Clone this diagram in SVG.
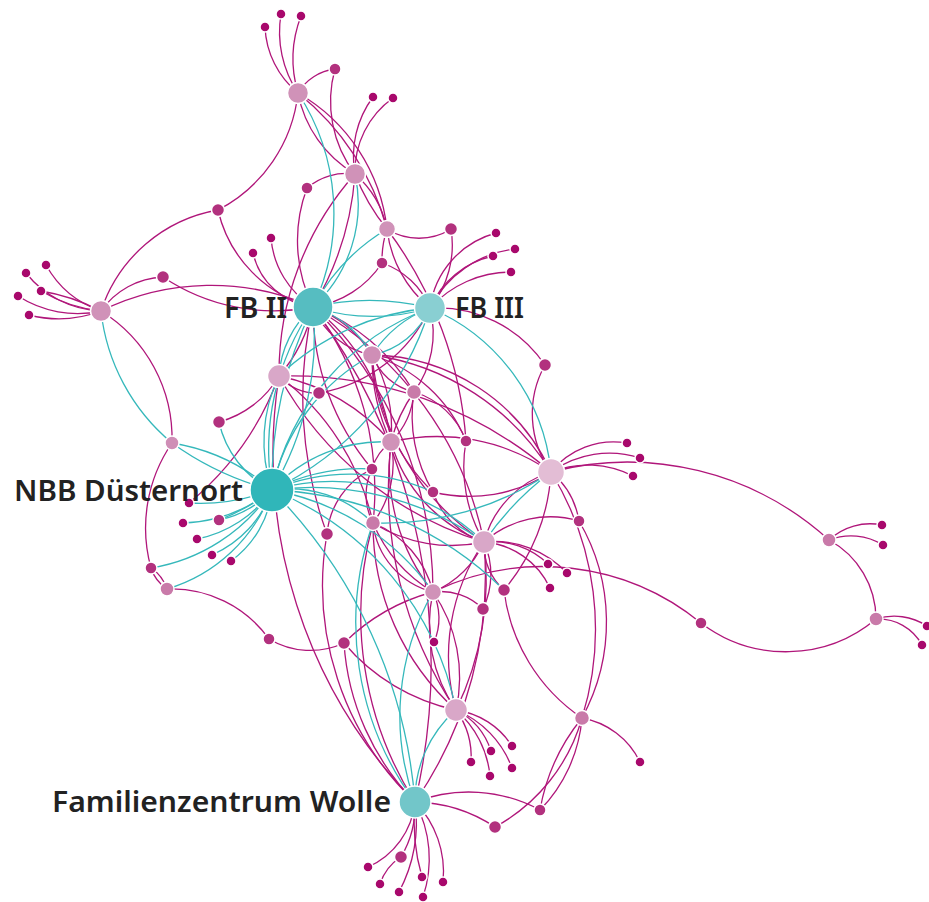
<svg xmlns="http://www.w3.org/2000/svg" width="929" height="902" viewBox="0 0 929 902">
<style>
.m{fill:none;stroke:#b0167a;stroke-width:1.3}
.t{fill:none;stroke:#35b8bb;stroke-width:1.3}
circle{stroke:#fff;stroke-width:1.5}
.lf{fill:#a8086c}
.md{fill:#b2317e}
.lbl{font-family:"Noto Sans","Open Sans",sans-serif;font-weight:600;font-size:29px;fill:#222}
</style>
<rect width="929" height="902" fill="#fff"/>
<g id="connectors">
<path class="m" d="M265 27A90 90 0 0 0 298 93"/>
<path class="m" d="M281 14A110 110 0 0 0 298 93"/>
<path class="m" d="M301 16A120 120 0 0 0 298 93"/>
<path class="m" d="M298 93A50 50 0 0 1 335 69"/>
<path class="m" d="M298 93A150 150 0 0 1 218 210"/>
<path class="m" d="M298 93A120 120 0 0 0 355 174"/>
<path class="m" d="M298 93A180 180 0 0 1 387 229"/>
<path class="m" d="M298 93A260 260 0 0 1 387 229"/>
<path class="m" d="M335 69A120 120 0 0 0 355 174"/>
<path class="m" d="M355 174A100 100 0 0 1 373 97"/>
<path class="m" d="M355 174A90 90 0 0 1 393 98"/>
<path class="m" d="M355 174A60 60 0 0 0 307 188"/>
<path class="m" d="M355 174A300 300 0 0 1 313 307"/>
<path class="m" d="M355 174A100 100 0 0 1 387 229"/>
<path class="m" d="M355 174A200 200 0 0 0 387 229"/>
<path class="m" d="M387 229A60 60 0 0 0 451 229"/>
<path class="m" d="M387 229A100 100 0 0 0 382 263"/>
<path class="m" d="M387 229A400 400 0 0 1 466 441"/>
<path class="m" d="M387 229A120 120 0 0 0 430 308"/>
<path class="m" d="M218 210A150 150 0 0 0 101 311"/>
<path class="m" d="M218 210A130 130 0 0 0 313 307"/>
<path class="m" d="M307 188A150 150 0 0 0 313 307"/>
<path class="m" d="M253 253A70 70 0 0 0 313 307"/>
<path class="m" d="M271 238A90 90 0 0 0 313 307"/>
<path class="m" d="M26 273A100 100 0 0 0 101 311"/>
<path class="m" d="M46 265A100 100 0 0 0 101 311"/>
<path class="m" d="M41 291A150 150 0 0 0 101 311"/>
<path class="m" d="M41 291A200 200 0 0 1 101 311"/>
<path class="m" d="M18 296A110 110 0 0 0 101 311"/>
<path class="m" d="M29 315A120 120 0 0 0 101 311"/>
<path class="m" d="M101 311A80 80 0 0 1 163 277"/>
<path class="m" d="M101 311A250 250 0 0 1 313 307"/>
<path class="m" d="M163 277A200 200 0 0 0 313 307"/>
<path class="m" d="M101 311A150 150 0 0 1 172 443"/>
<path class="m" d="M172 443A150 150 0 0 0 151 568"/>
<path class="m" d="M151 568A40 40 0 0 1 167 589"/>
<path class="m" d="M151 568A40 40 0 0 0 167 589"/>
<path class="m" d="M167 589A120 120 0 0 1 269 639"/>
<path class="m" d="M269 639A80 80 0 0 0 344 643"/>
<path class="m" d="M219 422A100 100 0 0 0 279 376"/>
<path class="m" d="M279 376A300 300 0 0 1 189 503"/>
<path class="m" d="M313 307A150 150 0 0 1 279 376"/>
<path class="m" d="M313 307A80 80 0 0 0 372 355"/>
<path class="m" d="M313 307A120 120 0 0 1 372 355"/>
<path class="m" d="M372 355A150 150 0 0 1 466 441"/>
<path class="m" d="M372 355A250 250 0 0 1 551 472"/>
<path class="m" d="M372 355A200 200 0 0 1 551 472"/>
<path class="m" d="M372 355A150 150 0 0 1 391 442"/>
<path class="m" d="M372 355A200 200 0 0 0 391 442"/>
<path class="m" d="M372 355A60 60 0 0 0 414 392"/>
<path class="m" d="M372 355A250 250 0 0 0 484 542"/>
<path class="m" d="M372 355A200 200 0 0 0 433 492"/>
<path class="m" d="M430 308A100 100 0 0 1 414 392"/>
<path class="m" d="M414 392A80 80 0 0 1 391 442"/>
<path class="m" d="M414 392A150 150 0 0 0 391 442"/>
<path class="m" d="M414 392A150 150 0 0 0 433 492"/>
<path class="m" d="M414 392A80 80 0 0 1 466 441"/>
<path class="m" d="M313 307A200 200 0 0 1 414 392"/>
<path class="m" d="M382 263A100 100 0 0 1 313 307"/>
<path class="m" d="M382 263A80 80 0 0 1 430 308"/>
<path class="m" d="M451 229A100 100 0 0 1 430 308"/>
<path class="m" d="M430 308A90 90 0 0 1 496 233"/>
<path class="m" d="M430 308A110 110 0 0 1 515 249"/>
<path class="m" d="M430 308A90 90 0 0 1 493 256"/>
<path class="m" d="M430 308A110 110 0 0 1 511 272"/>
<path class="m" d="M430 308A130 130 0 0 1 545 365"/>
<path class="m" d="M545 365A100 100 0 0 0 551 472"/>
<path class="m" d="M319 393A150 150 0 0 0 430 308"/>
<path class="m" d="M319 393A50 50 0 0 1 279 376"/>
<path class="m" d="M313 307A200 200 0 0 1 391 442"/>
<path class="m" d="M313 307A300 300 0 0 1 373 523"/>
<path class="m" d="M313 307A350 350 0 0 1 484 542"/>
<path class="m" d="M313 307A400 400 0 0 1 433 592"/>
<path class="m" d="M313 307A250 250 0 0 0 372 469"/>
<path class="m" d="M313 307A400 400 0 0 0 327 534"/>
<path class="m" d="M313 307A600 600 0 0 1 415 802"/>
<path class="m" d="M391 442A50 50 0 0 0 372 469"/>
<path class="m" d="M391 442A100 100 0 0 1 373 523"/>
<path class="m" d="M391 442A200 200 0 0 0 433 592"/>
<path class="m" d="M391 442A150 150 0 0 0 484 542"/>
<path class="m" d="M391 442A200 200 0 0 1 551 472"/>
<path class="m" d="M391 442A200 200 0 0 0 279 376"/>
<path class="m" d="M391 442A400 400 0 0 0 456 710"/>
<path class="m" d="M279 376A400 400 0 0 1 551 472"/>
<path class="m" d="M279 376A250 250 0 0 1 373 523"/>
<path class="m" d="M279 376A350 350 0 0 0 484 542"/>
<path class="m" d="M372 469A60 60 0 0 0 373 523"/>
<path class="m" d="M372 469A80 80 0 0 0 327 534"/>
<path class="m" d="M433 492A150 150 0 0 0 551 472"/>
<path class="m" d="M433 492A80 80 0 0 0 484 542"/>
<path class="m" d="M373 523A150 150 0 0 0 484 542"/>
<path class="m" d="M373 523A80 80 0 0 0 433 592"/>
<path class="m" d="M373 523A100 100 0 0 1 433 592"/>
<path class="m" d="M373 523A150 150 0 0 0 433 592"/>
<path class="m" d="M373 523A250 250 0 0 0 456 710"/>
<path class="m" d="M373 523A350 350 0 0 0 415 802"/>
<path class="m" d="M327 534A300 300 0 0 0 415 802"/>
<path class="m" d="M484 542A80 80 0 0 1 548 564"/>
<path class="m" d="M484 542A100 100 0 0 1 567 573"/>
<path class="m" d="M484 542A80 80 0 0 1 550 588"/>
<path class="m" d="M484 542A100 100 0 0 1 579 521"/>
<path class="m" d="M551 472A100 100 0 0 0 484 542"/>
<path class="m" d="M484 542A100 100 0 0 1 433 592"/>
<path class="m" d="M484 542A80 80 0 0 1 483 609"/>
<path class="m" d="M484 542A200 200 0 0 0 456 710"/>
<path class="m" d="M484 542A300 300 0 0 1 456 710"/>
<path class="m" d="M484 542A400 400 0 0 1 415 802"/>
<path class="m" d="M484 542A60 60 0 0 0 504 590"/>
<path class="m" d="M433 592A60 60 0 0 1 434 642"/>
<path class="m" d="M433 592A60 60 0 0 1 483 609"/>
<path class="m" d="M433 592A200 200 0 0 0 344 643"/>
<path class="m" d="M433 592A150 150 0 0 0 456 710"/>
<path class="m" d="M433 592A150 150 0 0 1 456 710"/>
<path class="m" d="M433 592A250 250 0 0 1 701 623"/>
<path class="m" d="M504 590A200 200 0 0 0 551 472"/>
<path class="m" d="M504 590A180 180 0 0 0 582 718"/>
<path class="m" d="M551 472A80 80 0 0 1 579 521"/>
<path class="m" d="M579 521A200 200 0 0 1 582 718"/>
<path class="m" d="M551 472A300 300 0 0 1 582 718"/>
<path class="m" d="M551 472A80 80 0 0 1 627 443"/>
<path class="m" d="M551 472A100 100 0 0 1 640 458"/>
<path class="m" d="M551 472A100 100 0 0 1 633 476"/>
<path class="m" d="M551 472A300 300 0 0 1 829 540"/>
<path class="m" d="M829 540A60 60 0 0 1 882 525"/>
<path class="m" d="M829 540A60 60 0 0 1 883 545"/>
<path class="m" d="M829 540A90 90 0 0 1 876 619"/>
<path class="m" d="M876 619A60 60 0 0 1 927 626"/>
<path class="m" d="M876 619A50 50 0 0 1 922 645"/>
<path class="m" d="M701 623A140 140 0 0 0 876 619"/>
<path class="m" d="M456 710A80 80 0 0 1 471 762"/>
<path class="m" d="M456 710A70 70 0 0 1 491 751"/>
<path class="m" d="M456 710A100 100 0 0 1 490 776"/>
<path class="m" d="M456 710A80 80 0 0 1 512 746"/>
<path class="m" d="M456 710A100 100 0 0 1 512 768"/>
<path class="m" d="M344 643A200 200 0 0 0 456 710"/>
<path class="m" d="M415 802A80 80 0 0 1 368 867"/>
<path class="m" d="M415 802A100 100 0 0 1 401 857"/>
<path class="m" d="M401 857A50 50 0 0 0 380 884"/>
<path class="m" d="M415 802A150 150 0 0 1 399 892"/>
<path class="m" d="M415 802A200 200 0 0 0 422 877"/>
<path class="m" d="M415 802A120 120 0 0 1 423 897"/>
<path class="m" d="M415 802A100 100 0 0 1 443 882"/>
<path class="m" d="M415 802A150 150 0 0 1 540 810"/>
<path class="m" d="M415 802A150 150 0 0 1 495 827"/>
<path class="m" d="M582 718A150 150 0 0 1 540 810"/>
<path class="m" d="M582 718A200 200 0 0 0 540 810"/>
<path class="m" d="M582 718A180 180 0 0 1 495 827"/>
<path class="m" d="M582 718A80 80 0 0 1 640 762"/>
<path class="m" d="M344 643A250 250 0 0 0 415 802"/>
<path class="m" d="M466 441A150 150 0 0 0 484 542"/>
<path class="m" d="M279 376A500 500 0 0 0 415 802"/>
<path class="m" d="M355 174A300 300 0 0 0 279 376"/>
<path class="t" d="M298 93A220 220 0 0 1 313 307"/>
<path class="t" d="M355 174A140 140 0 0 1 313 307"/>
<path class="t" d="M387 229A200 200 0 0 0 313 307"/>
<path class="t" d="M313 307A250 250 0 0 1 430 308"/>
<path class="t" d="M313 307A200 200 0 0 0 430 308"/>
<path class="t" d="M101 311A200 200 0 0 0 172 443"/>
<path class="t" d="M172 443A200 200 0 0 1 272 490"/>
<path class="t" d="M172 443A300 300 0 0 0 272 490"/>
<path class="t" d="M189 503A200 200 0 0 0 272 490"/>
<path class="t" d="M183 523A150 150 0 0 0 272 490"/>
<path class="t" d="M219 520A100 100 0 0 0 272 490"/>
<path class="t" d="M219 520A200 200 0 0 0 272 490"/>
<path class="t" d="M197 539A120 120 0 0 0 272 490"/>
<path class="t" d="M212 555A110 110 0 0 0 272 490"/>
<path class="t" d="M231 561A100 100 0 0 0 272 490"/>
<path class="t" d="M151 568A180 180 0 0 0 272 490"/>
<path class="t" d="M167 589A160 160 0 0 0 272 490"/>
<path class="t" d="M219 422A100 100 0 0 0 272 490"/>
<path class="t" d="M272 490A250 250 0 0 1 313 307"/>
<path class="t" d="M272 490A300 300 0 0 0 313 307"/>
<path class="t" d="M272 490A400 400 0 0 1 313 307"/>
<path class="t" d="M313 307A100 100 0 0 0 279 376"/>
<path class="t" d="M272 490A150 150 0 0 1 279 376"/>
<path class="t" d="M272 490A300 300 0 0 0 430 308"/>
<path class="t" d="M272 490A250 250 0 0 1 430 308"/>
<path class="t" d="M272 490A200 200 0 0 1 372 355"/>
<path class="t" d="M272 490A150 150 0 0 1 391 442"/>
<path class="t" d="M272 490A200 200 0 0 1 372 469"/>
<path class="t" d="M272 490A200 200 0 0 1 433 492"/>
<path class="t" d="M272 490A120 120 0 0 1 373 523"/>
<path class="t" d="M272 490A300 300 0 0 1 484 542"/>
<path class="t" d="M272 490A220 220 0 0 1 484 542"/>
<path class="t" d="M272 490A250 250 0 0 1 433 592"/>
<path class="t" d="M272 490A350 350 0 0 1 504 590"/>
<path class="t" d="M272 490A300 300 0 0 1 456 710"/>
<path class="t" d="M272 490A500 500 0 0 1 415 802"/>
<path class="t" d="M373 523A300 300 0 0 0 415 802"/>
<path class="t" d="M433 592A250 250 0 0 0 415 802"/>
<path class="t" d="M456 710A120 120 0 0 0 415 802"/>
<path class="t" d="M373 523A300 300 0 0 0 551 472"/>
<path class="t" d="M430 308A200 200 0 0 1 551 472"/>
<path class="t" d="M551 472A300 300 0 0 0 484 542"/>
<path class="t" d="M313 307A100 100 0 0 1 372 355"/>
<path class="t" d="M430 308A80 80 0 0 1 372 355"/>
<path class="t" d="M430 308A120 120 0 0 0 372 355"/>
<path class="t" d="M279 376A250 250 0 0 1 430 308"/>
</g>
<g id="nodes">
<g id="n-leaves" class="lf">
<circle cx="265" cy="27" r="5"/><circle cx="281" cy="14" r="5"/><circle cx="301" cy="16" r="5"/>
<circle cx="373" cy="97" r="5"/><circle cx="393" cy="98" r="5"/>
<circle cx="26" cy="273" r="5"/><circle cx="46" cy="265" r="5"/><circle cx="41" cy="291" r="5"/><circle cx="18" cy="296" r="5"/><circle cx="29" cy="315" r="5"/>
<circle cx="253" cy="253" r="5"/><circle cx="271" cy="238" r="5"/>
<circle cx="496" cy="233" r="5"/><circle cx="515" cy="249" r="5"/><circle cx="493" cy="256" r="5"/><circle cx="511" cy="272" r="5"/>
<circle cx="627" cy="443" r="5"/><circle cx="640" cy="458" r="5"/><circle cx="633" cy="476" r="5"/>
<circle cx="548" cy="564" r="5"/><circle cx="567" cy="573" r="5"/><circle cx="550" cy="588" r="5"/>
<circle cx="434" cy="642" r="5"/>
<circle cx="882" cy="525" r="5"/><circle cx="883" cy="545" r="5"/>
<circle cx="927" cy="626" r="5"/><circle cx="922" cy="645" r="5"/>
<circle cx="189" cy="503" r="5"/><circle cx="183" cy="523" r="5"/><circle cx="197" cy="539" r="5"/><circle cx="212" cy="555" r="5"/><circle cx="231" cy="561" r="5"/>
<circle cx="471" cy="762" r="5"/><circle cx="491" cy="751" r="5"/><circle cx="490" cy="776" r="5"/><circle cx="512" cy="746" r="5"/><circle cx="512" cy="768" r="5"/>
<circle cx="640" cy="762" r="5"/>
<circle cx="368" cy="867" r="5"/><circle cx="380" cy="884" r="5"/><circle cx="399" cy="892" r="5"/><circle cx="422" cy="877" r="5"/><circle cx="423" cy="897" r="5"/><circle cx="443" cy="882" r="5"/>
</g>
<g id="n-mid" class="md">
<circle cx="218" cy="210" r="6.5"/><circle cx="335" cy="69" r="6"/><circle cx="307" cy="188" r="6"/><circle cx="163" cy="277" r="6.5"/>
<circle cx="451" cy="229" r="6.5"/><circle cx="382" cy="263" r="6"/><circle cx="545" cy="365" r="6.5"/><circle cx="319" cy="393" r="6.5"/>
<circle cx="219" cy="422" r="6.5"/><circle cx="466" cy="441" r="6"/><circle cx="372" cy="469" r="6"/><circle cx="433" cy="492" r="6"/>
<circle cx="579" cy="521" r="6"/><circle cx="327" cy="534" r="6.5"/><circle cx="504" cy="590" r="6.5"/><circle cx="483" cy="609" r="6.5"/>
<circle cx="344" cy="643" r="6.5"/><circle cx="219" cy="520" r="6"/><circle cx="151" cy="568" r="6"/><circle cx="269" cy="639" r="6"/>
<circle cx="701" cy="623" r="6"/><circle cx="540" cy="810" r="6"/><circle cx="495" cy="827" r="6.5"/><circle cx="401" cy="857" r="6.5"/>
</g>
<g id="n-A"><circle cx="298" cy="93" r="10.5" fill="#d092b8"/></g>
<g id="n-B"><circle cx="355" cy="174" r="10.5" fill="#d092b8"/></g>
<g id="n-C"><circle cx="101" cy="311" r="10.5" fill="#d092b8"/></g>
<g id="n-D"><circle cx="387" cy="229" r="8.5" fill="#d092b8"/></g>
<g id="n-E"><circle cx="372" cy="355" r="9.5" fill="#cf8eb6"/></g>
<g id="n-F"><circle cx="279" cy="376" r="11.5" fill="#d9a7c8"/></g>
<g id="n-G"><circle cx="414" cy="392" r="7.5" fill="#c97aa9"/></g>
<g id="n-H"><circle cx="391" cy="442" r="9.5" fill="#d092b8"/></g>
<g id="n-I"><circle cx="551" cy="472" r="13.5" fill="#e3bdd5"/></g>
<g id="n-J"><circle cx="373" cy="523" r="7.5" fill="#c97aa9"/></g>
<g id="n-K"><circle cx="484" cy="542" r="11.5" fill="#d9a7c8"/></g>
<g id="n-L"><circle cx="433" cy="592" r="8.5" fill="#d092b8"/></g>
<g id="n-M"><circle cx="456" cy="710" r="11.5" fill="#d9a7c8"/></g>
<g id="n-N"><circle cx="582" cy="718" r="7.5" fill="#c97aa9"/></g>
<g id="n-O"><circle cx="829" cy="540" r="7" fill="#c97aa9"/></g>
<g id="n-P"><circle cx="876" cy="619" r="7" fill="#c97aa9"/></g>
<g id="n-Q"><circle cx="172" cy="443" r="7" fill="#cf8eb6"/></g>
<g id="n-R"><circle cx="167" cy="589" r="7" fill="#c97aa9"/></g>
<g id="n-fb2"><circle cx="313" cy="307" r="20" fill="#56bdc1"/><text class="lbl" x="287" y="318" text-anchor="end" textLength="63" lengthAdjust="spacingAndGlyphs">FB II</text></g>
<g id="n-fb3"><circle cx="430" cy="308" r="15.5" fill="#89cfd2"/><text class="lbl" x="455" y="318" textLength="69" lengthAdjust="spacingAndGlyphs">FB III</text></g>
<g id="n-nbb"><circle cx="272" cy="490" r="22" fill="#30b6b9"/><text class="lbl" x="14" y="501" textLength="229" lengthAdjust="spacingAndGlyphs">NBB Düsternort</text></g>
<g id="n-wolle"><circle cx="415" cy="802" r="16" fill="#72c6c9"/><text class="lbl" x="52" y="812" textLength="339" lengthAdjust="spacingAndGlyphs">Familienzentrum Wolle</text></g>
</g>
</svg>
